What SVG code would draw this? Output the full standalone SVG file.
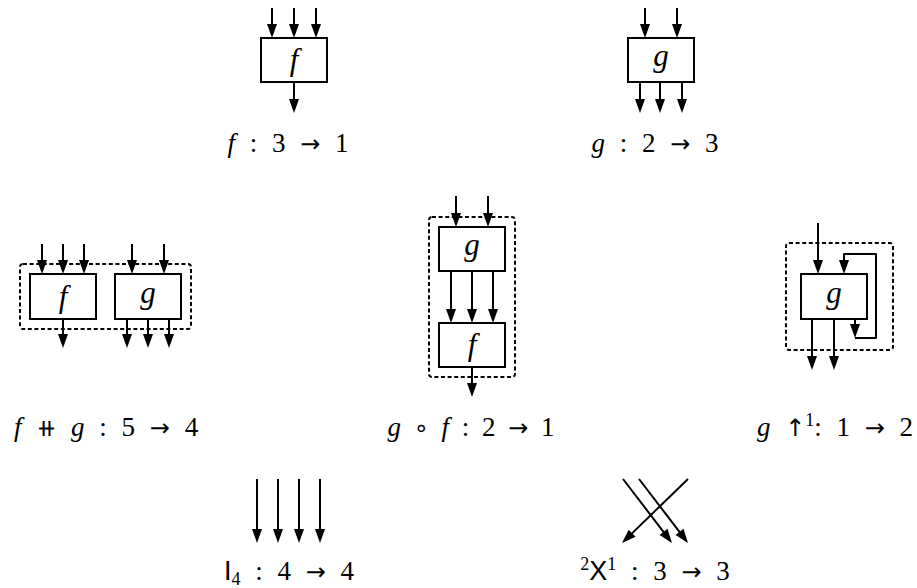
<svg xmlns="http://www.w3.org/2000/svg" width="917" height="588" viewBox="0 0 917 588">
<defs>
<marker id="ah" viewBox="-12 -6 15 12" refX="0" refY="0" markerWidth="15" markerHeight="12" orient="auto" markerUnits="userSpaceOnUse">
<path d="M3,0 L-11,-5 L-11,5 Z" fill="#000"/>
</marker>
<style>
.box{fill:#fff;stroke:#000;stroke-width:2}
.dash{fill:none;stroke:#000;stroke-width:2;stroke-dasharray:4 2.6}
.w{fill:none;stroke:#000;stroke-width:2;marker-end:url(#ah)}
.w0{fill:none;stroke:#000;stroke-width:2;stroke-linejoin:round}
.t{font-family:'Liberation Serif','Times New Roman',Times,serif;font-size:27px;fill:#000;word-spacing:8px}
.n{font-family:'Liberation Serif','Times New Roman',Times,serif;font-size:31px;font-style:italic;fill:#000}
.i{font-style:italic}
.ar{font-family:'DejaVu Sans',sans-serif;font-size:24px}
.sf{font-family:'Liberation Sans',Arial,sans-serif}
.sup{font-size:18px}
</style>
</defs>
<rect width="917" height="588" fill="#fff"/>

<g id="f">
<rect class="box" x="261" y="38" width="66" height="44"/>
<text class="n" x="294" y="70" text-anchor="middle">f</text>
</g>
<g id="g">
<rect class="box" x="628" y="38" width="66" height="44"/>
<text class="n" x="661" y="66" text-anchor="middle">g</text>
</g>
<g id="fg-par">
<rect class="dash" x="20" y="264" width="171" height="65" rx="3"/>
<rect class="box" x="30" y="274" width="66" height="45"/>
<text class="n" x="63" y="307" text-anchor="middle">f</text>
<rect class="box" x="115" y="274" width="66" height="45"/>
<text class="n" x="148" y="303" text-anchor="middle">g</text>
</g>
<g id="gf-seq">
<rect class="dash" x="429" y="217" width="86" height="160" rx="3"/>
<rect class="box" x="439" y="227" width="66" height="44"/>
<text class="n" x="472" y="255" text-anchor="middle">g</text>
<rect class="box" x="439" y="323" width="66" height="44"/>
<text class="n" x="472" y="355" text-anchor="middle">f</text>
</g>
<g id="g-loop">
<rect class="dash" x="786" y="243" width="107" height="107" rx="3"/>
<rect class="box" x="801" y="274" width="66" height="45"/>
<text class="n" x="834" y="303" text-anchor="middle">g</text>
</g>

<g id="connectors">
<line class="w" x1="272" y1="8" x2="272" y2="35"/>
<line class="w" x1="294" y1="8" x2="294" y2="35"/>
<line class="w" x1="316" y1="8" x2="316" y2="35"/>
<line class="w" x1="294" y1="82" x2="294" y2="110"/>

<line class="w" x1="645" y1="8" x2="645" y2="35"/>
<line class="w" x1="677" y1="8" x2="677" y2="35"/>
<line class="w" x1="640" y1="82" x2="640" y2="110"/>
<line class="w" x1="660" y1="82" x2="660" y2="110"/>
<line class="w" x1="682" y1="82" x2="682" y2="110"/>

<line class="w" x1="42" y1="244" x2="42" y2="271"/>
<line class="w" x1="63" y1="244" x2="63" y2="271"/>
<line class="w" x1="84" y1="244" x2="84" y2="271"/>
<line class="w" x1="63" y1="319" x2="63" y2="345"/>
<line class="w" x1="132" y1="244" x2="132" y2="271"/>
<line class="w" x1="164" y1="244" x2="164" y2="271"/>
<line class="w" x1="127" y1="319" x2="127" y2="345"/>
<line class="w" x1="148" y1="319" x2="148" y2="345"/>
<line class="w" x1="169" y1="319" x2="169" y2="345"/>

<line class="w" x1="456" y1="196" x2="456" y2="224"/>
<line class="w" x1="488" y1="196" x2="488" y2="224"/>
<line class="w" x1="451" y1="271" x2="451" y2="320"/>
<line class="w" x1="472" y1="271" x2="472" y2="320"/>
<line class="w" x1="493" y1="271" x2="493" y2="320"/>
<line class="w" x1="472" y1="367" x2="472" y2="394"/>

<line class="w" x1="818" y1="223" x2="818" y2="271"/>
<line class="w" x1="812" y1="319" x2="812" y2="367"/>
<line class="w" x1="834" y1="319" x2="834" y2="367"/>
<line class="w" x1="855" y1="319" x2="855" y2="335"/>
<path class="w0" d="M855,338 H876 V254 H844 V262"/>
<line class="w" x1="844" y1="261" x2="844" y2="271"/>

<line class="w" x1="257" y1="479" x2="257" y2="540"/>
<line class="w" x1="278" y1="479" x2="278" y2="540"/>
<line class="w" x1="299" y1="479" x2="299" y2="540"/>
<line class="w" x1="320" y1="479" x2="320" y2="540"/>

<line class="w" x1="623" y1="479" x2="670.2" y2="540.6"/>
<line class="w" x1="639" y1="479" x2="686.2" y2="540.6"/>
<line class="w" x1="688" y1="479" x2="624.2" y2="540.9"/>
</g>

<g id="labels">
<text class="t" x="288" y="152" text-anchor="middle"><tspan class="i">f</tspan> : 3 <tspan class="ar">→</tspan> 1</text>
<text class="t" x="655" y="152" text-anchor="middle"><tspan class="i">g</tspan> : 2 <tspan class="ar">→</tspan> 3</text>
<text class="t" x="106" y="436" text-anchor="middle"><tspan class="i">f</tspan> <tspan class="ar">⧺</tspan> <tspan class="i">g</tspan> : 5 <tspan class="ar">→</tspan> 4</text>
<text class="t" x="471" y="436" text-anchor="middle" style="word-spacing:6px"><tspan class="i">g</tspan> <tspan class="ar">∘</tspan> <tspan class="i">f</tspan> : 2 <tspan class="ar">→</tspan> 1</text>
<text class="t" x="835" y="436" text-anchor="middle"><tspan class="i">g</tspan> <tspan class="ar">↑</tspan><tspan class="sup" dy="-10">1</tspan><tspan dy="10">: 1 </tspan><tspan class="ar">→</tspan> 2</text>
<text class="t" x="289" y="580" text-anchor="middle"><tspan class="sf">I</tspan><tspan class="sup" dy="5">4</tspan><tspan dy="-5"> : 4 </tspan><tspan class="ar">→</tspan> 4</text>
<text class="t" x="655" y="580" text-anchor="middle"><tspan class="sup" dy="-10">2</tspan><tspan class="sf" dy="10">X</tspan><tspan class="sup" dy="-10">1</tspan><tspan dy="10"> : 3 </tspan><tspan class="ar">→</tspan> 3</text>
</g>
</svg>
